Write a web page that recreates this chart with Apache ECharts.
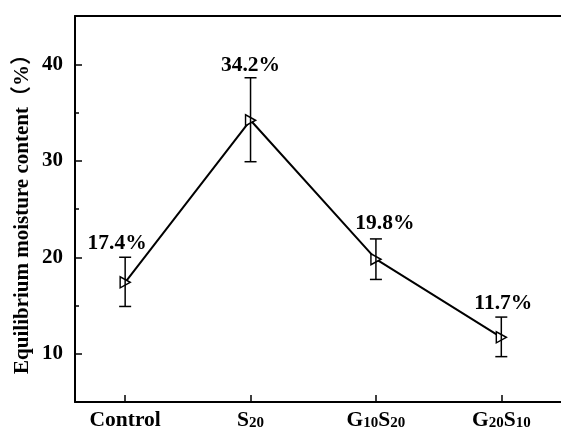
<!DOCTYPE html>
<html>
<head>
<meta charset="utf-8">
<script src="https://cdn.jsdelivr.net/npm/echarts@6/dist/echarts.min.js"></script>
<style>html,body{margin:0;padding:0;background:#fff}#c{width:561px;height:427px}</style>
</head>
<body>
<div id="c"></div>
<script>
// ---- data ----
var categories = ['Control', 'S20', 'G10S20', 'G20S10'];
var categoryRich = ['Control', '{m|S}{s|20}', '{m|G}{s|10}{m|S}{s|20}', '{m|G}{s|20}{m|S}{s|10}'];
var meanValues = [17.4, 34.2, 19.8, 11.7];
var errLow = [14.9, 29.9, 17.7, 9.7];
var errHigh = [20.0, 38.6, 21.9, 13.8];
var labelTexts = ['17.4%', '34.2%', '19.8%', '11.7%'];
var yTickLabels = [10, 20, 30, 40];
var yMinorTicks = [15, 25, 35];

// ---- styling (label offsets relative to marker) ----
var labelOffsets = [[-8, -39], [0, -55], [9, -36], [2, -34]];

var FONT = '"Liberation Serif","Times New Roman","Noto Sans CJK SC",serif';
var chart = echarts.init(document.getElementById('c'), null, {renderer: 'canvas'});

var lineData = meanValues.map(function (v, i) {
  return {value: [i, v], label: {offset: labelOffsets[i], formatter: labelTexts[i]}};
});
var errData = meanValues.map(function (v, i) { return [i, errLow[i], errHigh[i]]; });

var option = {
  animation: false,
  backgroundColor: '#fff',
  grid: {left: 75, top: 16, right: -3, bottom: 25, containLabel: false, outerBoundsMode: 'none'},
  xAxis: [{
    type: 'value', min: -0.4, max: 3.5, position: 'bottom',
    axisLine: {show: true, onZero: false, lineStyle: {color: '#000', width: 2}},
    splitLine: {show: false},
    axisTick: {show: true, inside: true, length: 7, lineStyle: {color: '#000', width: 1.5}, customValues: [0, 1, 2, 3]},
    axisLabel: {
      show: true, customValues: [0, 1, 2, 3], margin: 8,
      formatter: function (v) { var i = Math.round(v); return categoryRich[i] || ''; },
      color: '#000', fontFamily: FONT, fontWeight: 'bold', fontSize: 21.5,
      rich: {
        m: {fontFamily: FONT, fontWeight: 'bold', fontSize: 21.5, color: '#000', verticalAlign: 'bottom'},
        s: {fontFamily: FONT, fontWeight: 'bold', fontSize: 15, color: '#000', verticalAlign: 'bottom', padding: [0, 0, 1, 0]}
      }
    }
  }, {
    type: 'value', min: -0.4, max: 3.5, position: 'top',
    axisLine: {show: true, onZero: false, lineStyle: {color: '#000', width: 2}},
    axisTick: {show: false}, axisLabel: {show: false}, splitLine: {show: false}
  }],
  yAxis: [{
    type: 'value', min: 5, max: 45, interval: 5, position: 'left',
    name: 'Equilibrium moisture content（%）', nameLocation: 'middle', nameGap: 42, nameMoveOverlap: false,
    nameTextStyle: {color: '#000', fontFamily: FONT, fontWeight: 'bold', fontSize: 21},
    axisLine: {show: true, onZero: false, lineStyle: {color: '#000', width: 2}},
    splitLine: {show: false},
    axisTick: {show: true, inside: true, length: 7, lineStyle: {color: '#000', width: 1.5}, customValues: yTickLabels},
    axisLabel: {show: true, customValues: yTickLabels, margin: 12, color: '#000', fontFamily: FONT, fontWeight: 'bold', fontSize: 21}
  }, {
    type: 'value', min: 5, max: 45, interval: 5, position: 'left',
    axisLine: {show: false, onZero: false},
    splitLine: {show: false},
    axisTick: {show: true, inside: true, length: 4, lineStyle: {color: '#000', width: 1.5}, customValues: yMinorTicks},
    axisLabel: {show: false}
  }],
  series: [{
    type: 'line', xAxisIndex: 0, yAxisIndex: 0,
    data: lineData,
    symbol: 'triangle', symbolRotate: -90, symbolSize: [11, 10],
    lineStyle: {color: '#000', width: 2},
    itemStyle: {color: '#fff', borderColor: '#000', borderWidth: 1.5},
    label: {show: true, position: 'inside', color: '#000', fontFamily: FONT, fontWeight: 'bold', fontSize: 21.5},
    z: 2
  }, {
    type: 'custom', xAxisIndex: 0, yAxisIndex: 0,
    data: errData,
    renderItem: function (params, api) {
      var x = api.value(0);
      var lo = api.coord([x, api.value(1)]);
      var hi = api.coord([x, api.value(2)]);
      var cw = 6;
      var st = {stroke: '#000', lineWidth: 1.5};
      return {type: 'group', children: [
        {type: 'line', shape: {x1: lo[0], y1: lo[1], x2: hi[0], y2: hi[1]}, style: st},
        {type: 'line', shape: {x1: hi[0] - cw, y1: hi[1], x2: hi[0] + cw, y2: hi[1]}, style: st},
        {type: 'line', shape: {x1: lo[0] - cw, y1: lo[1], x2: lo[0] + cw, y2: lo[1]}, style: st}
      ]};
    },
    z: 3
  }]
};
chart.setOption(option);
</script>
</body>
</html>
